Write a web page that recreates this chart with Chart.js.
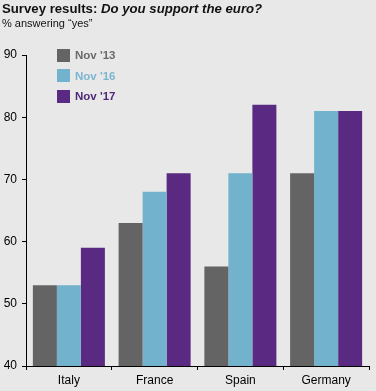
<!DOCTYPE html>
<html>
<head>
<meta charset="utf-8">
<script src="https://cdn.jsdelivr.net/npm/chart.js@4.4.1/dist/chart.umd.min.js"></script>
<style>
  html, body { margin: 0; padding: 0; background: #e8e8e8; }
  #wrap { position: relative; width: 376px; height: 391px; font-family: "Liberation Sans", Arial, sans-serif; }
  #title { position: absolute; left: 2px; top: 1px; font-size: 13.2px; font-weight: bold; color: #111; white-space: nowrap; }
  #title i { font-style: italic; }
  #sub { position: absolute; left: 2px; top: 17px; font-size: 11px; color: #111; white-space: nowrap; }
  #legend { position: absolute; left: 57px; top: 45px; font-size: 11.5px; font-weight: bold; }
  #legend div { height: 20.5px; display: flex; align-items: center; }
  #legend span.sw { display: inline-block; width: 13px; height: 13px; margin-right: 5px; }
  canvas { position: absolute; left: 0; top: 0; }
</style>
</head>
<body>
<div id="wrap">
  <canvas id="c" width="376" height="391"></canvas>
  <div id="title">Survey results: <i>Do you support the euro?</i></div>
  <div id="sub">% answering “yes”</div>
  <div id="legend"></div>
</div>
<script>
  // --- DATA ---
  const countries = ["Italy", "France", "Spain", "Germany"];
  const nov13 = [53, 63, 56, 71];
  const nov16 = [53, 68, 71, 81];
  const nov17 = [59, 71, 82, 81];
  const seriesNames = ["Nov '13", "Nov '16", "Nov '17"];
  const yTicks = [40, 50, 60, 70, 80, 90];

  const colors = ["#646464", "#72b2cc", "#5a2a82"];
  const textColors = ["#6a6a6a", "#7ab6cf", "#4e2876"];

  // legend (html)
  const leg = document.getElementById("legend");
  leg.innerHTML = seriesNames.map((n, i) =>
    `<div><span class="sw" style="background:${colors[i]}"></span><span style="color:${textColors[i]}">${n}</span></div>`
  ).join("");

  const mk = (label, data, i) => ({
    label, data,
    backgroundColor: colors[i],
    borderWidth: 0,
    barPercentage: 1,
    categoryPercentage: 0.84
  });

  new Chart(document.getElementById("c"), {
    type: "bar",
    data: {
      labels: countries,
      datasets: [mk(seriesNames[0], nov13, 0), mk(seriesNames[1], nov16, 1), mk(seriesNames[2], nov17, 2)]
    },
    options: {
      responsive: false,
      animation: false,
      layout: { padding: { top: 55, right: 7, left: 0, bottom: 0 } },
      plugins: { legend: { display: false }, tooltip: { enabled: false } },
      scales: {
        x: {
          grid: { display: true, drawOnChartArea: false, drawTicks: true, tickLength: 4, color: "#000", offset: true },
          border: { display: true, color: "#000", width: 1 },
          ticks: { color: "#000", font: { family: "Liberation Sans", size: 12 }, padding: 3 },
          afterFit: (s) => { s.height = 25; }
        },
        y: {
          min: 40, max: 90,
          afterBuildTicks: (s) => { s.ticks = yTicks.map(v => ({ value: v })); },
          grid: { display: true, drawOnChartArea: false, drawTicks: true, tickLength: 4, color: "#000" },
          border: { display: true, color: "#000", width: 1 },
          ticks: { color: "#000", font: { family: "Liberation Sans", size: 12 }, padding: 5 },
          afterFit: (s) => { s.width = 26; }
        }
      }
    }
  });
</script>
</body>
</html>
